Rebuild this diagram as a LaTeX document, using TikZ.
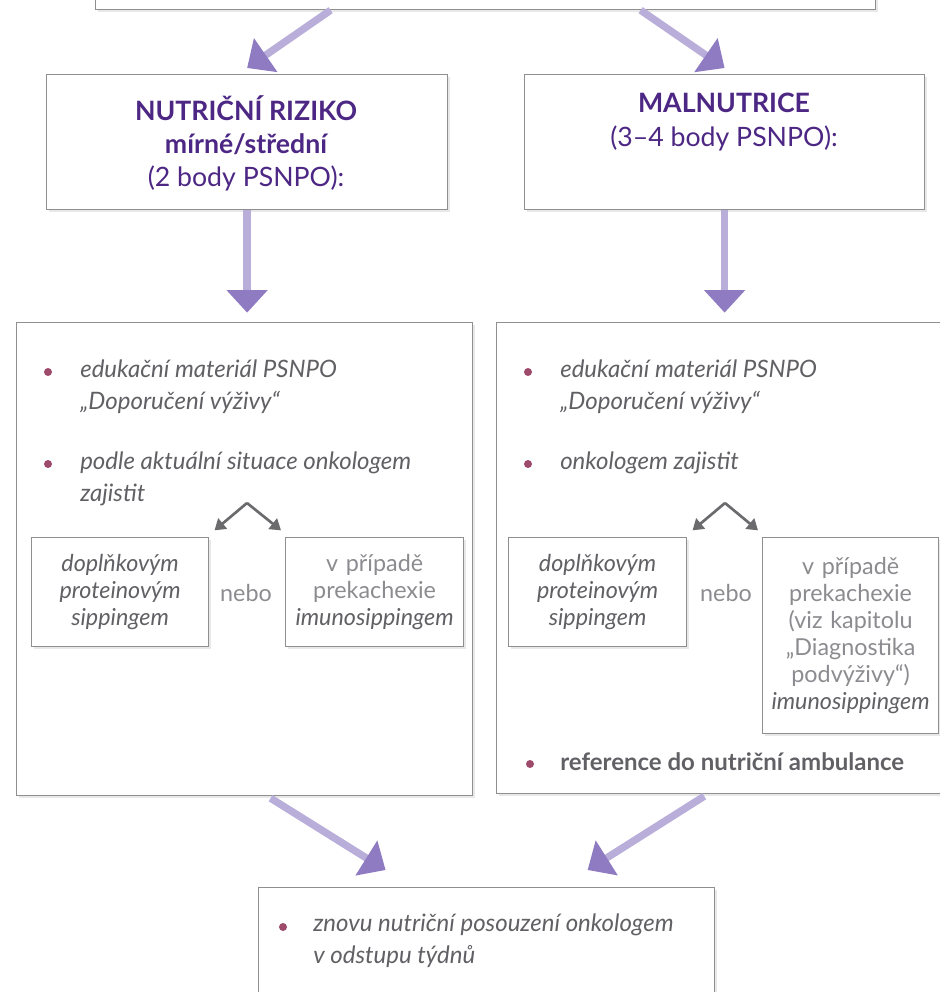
\documentclass[tikz,border=0pt]{standalone}
\usepackage{fontspec}
\setmainfont{Lato}
\usetikzlibrary{arrows.meta, positioning, shadows}
\definecolor{lav}{HTML}{8E7BC2}
\definecolor{lavshaft}{HTML}{B9AEDA}
\definecolor{titlepurple}{HTML}{4D2784}
\definecolor{textgrey}{HTML}{616165}
\definecolor{lightgrey}{HTML}{8C8C90}
\definecolor{dotred}{HTML}{9E4A6B}
\definecolor{boxline}{HTML}{8F8F8F}
\definecolor{splitgrey}{HTML}{6B6B6E}
\tikzset{
  box/.style={draw=boxline, line width=0.9pt, fill=white, anchor=north west,
    drop shadow={shadow xshift=2pt, shadow yshift=-2pt, opacity=0.18}}, % framed boxes
  title/.style={align=center, text=titlepurple, anchor=north, inner sep=0pt,
    font=\fontsize{20}{25}\selectfont},
  item/.style={anchor=north west, align=left, text=textgrey, inner sep=0pt,
    font=\fontsize{18}{23.5}\selectfont\itshape},
  dot/.style={circle, fill=dotred, inner sep=0pt, minimum size=6pt},
  choice/.style={box, align=center, text=textgrey, text width=127pt, inner sep=2pt,
    font=\fontsize{17.5}{20.25}\selectfont\itshape},
  nebo/.style={text=lightgrey, font=\fontsize{17.5}{20}\selectfont},
  bigarrow/.style={draw=lavshaft, line width=5.5pt,
    -{Triangle[length=17pt,width=30pt,color=lav]}},
  splitarrow/.style={draw=splitgrey, line width=2pt,
    -{Triangle[length=8pt,width=10pt]}},
}
\begin{document}
\begin{tikzpicture}[x=0.75pt, y=-0.75pt]
  \useasboundingbox (0,0) rectangle (939,992);

  % boxes
  \node[box, minimum width=585pt, minimum height=29.25pt] (top) at (95,-30) {};
  \node[box, minimum width=300.75pt, minimum height=101.25pt] (nr) at (46,74) {};
  \node[box, minimum width=300pt, minimum height=101.25pt] (mal) at (524,74) {};
  \node[box, minimum width=342pt, minimum height=354.75pt] (lbig) at (16,322) {};
  \node[box, minimum width=337.5pt, minimum height=353.25pt] (rbig) at (496,322) {};
  \node[box, minimum width=342pt, minimum height=112pt] (bot) at (258,887) {};

  % titles
  \node[title] (nrtext) at (246,95) {{\bfseries NUTRIČNÍ RIZIKO}\\
    {\bfseries mírné/střední}\\(2 body PSNPO):};
  \node[title] (maltext) at (724,93) {{\bfseries MALNUTRICE}\\(3–4 body PSNPO):};

  % left column
  \node[item] (ledu) at (80,360) {edukační materiál PSNPO\\„Doporučení výživy“};
  \node[dot] at (48,372) {};
  \node[item] (lsit) at (80,452) {podle aktuální situace onkologem\\zajistit};
  \node[dot] at (48,464) {};
  \node[choice, minimum width=132.75pt, minimum height=81.75pt] (lsip) at (31,537)
    {doplňkovým\\proteinovým\\sippingem};
  \node[nebo] (lnebo) at (246,593) {nebo};
  \node[choice, minimum width=133.5pt, minimum height=81.75pt] (limu) at (285,537)
    {{\upshape\color{lightgrey}v případě\\prekachexie}\\imunosippingem};

  % right column
  \node[item] (redu) at (560,360) {edukační materiál PSNPO\\„Doporučení výživy“};
  \node[dot] at (528,372) {};
  \node[item] (ronk) at (560,452) {onkologem zajistit};
  \node[dot] at (528,464) {};
  \node[choice, minimum width=133.5pt, minimum height=81.75pt] (rsip) at (508,537)
    {doplňkovým\\proteinovým\\sippingem};
  \node[nebo] (rnebo) at (726,593) {nebo};
  \node[choice, minimum width=132pt, minimum height=147pt] (rimu) at (762,537)
    {{\upshape\color{lightgrey}v případě\\prekachexie\\(viz kapitolu\\„Diagnostika\\podvýživy“)}\\imunosippingem};
  \node[item, font=\fontsize{18}{23.5}\selectfont\bfseries] (rref) at (560,752)
    {reference do nutriční ambulance};
  \node[dot] at (530,764) {};

  % bottom
  \node[item] (znovu) at (313,914) {znovu nutriční posouzení onkologem\\v odstupu týdnů};
  \node[dot] at (283,927) {};

  % arrows
  \draw[bigarrow] ([xshift=-116.25pt]top.south) -- ([yshift=4.5pt]nr.north);
  \draw[bigarrow] ([xshift=116.25pt]top.south) -- ([yshift=4.5pt]mal.north);
  \draw[bigarrow] (nr.south) -- ([yshift=7pt]nr.south |- lbig.north);
  \draw[bigarrow] (mal.south) -- ([yshift=7pt]mal.south |- rbig.north);
  \draw[bigarrow] ([xshift=19.5pt, yshift=-1.5pt]lbig.south) -- ([xshift=-75.75pt, yshift=12.75pt]bot.north);
  \draw[bigarrow] ([xshift=-13pt, yshift=-1.5pt]rbig.south) -- ([xshift=75.75pt, yshift=12.75pt]bot.north);

  \coordinate (lsplit) at (247,503);
  \coordinate (rsplit) at (725,503);
  \draw[splitarrow] (lsplit) -- ([xshift=4pt, yshift=5pt]lsip.north east);
  \draw[splitarrow] (lsplit) -- ([xshift=-3pt, yshift=5pt]limu.north west);
  \draw[splitarrow] (rsplit) -- ([xshift=4pt, yshift=5pt]rsip.north east);
  \draw[splitarrow] (rsplit) -- ([xshift=-3pt, yshift=5pt]rimu.north west);
\end{tikzpicture}
\end{document}
